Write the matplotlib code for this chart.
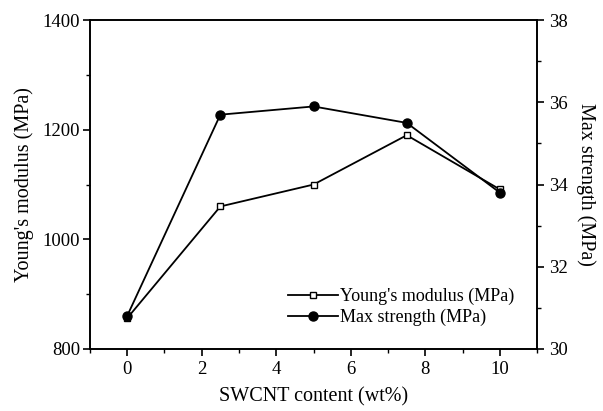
import matplotlib
matplotlib.use('Agg')
import matplotlib.pyplot as plt
import numpy as np

plt.rcParams['font.family'] = ['Liberation Serif', 'DejaVu Serif']

swcnt = [0, 2.5, 5, 7.5, 10]
youngs = [856, 1060, 1100, 1190, 1091]
strength = [30.8, 35.7, 35.9, 35.5, 33.8]

fig = plt.figure(figsize=(6.03, 4.11), dpi=100)
ax = fig.add_axes([0.149, 0.151, 0.742, 0.800])
ax2 = ax.twinx()

l1, = ax.plot(swcnt, youngs, 'k-', marker='s', markerfacecolor='white',
              markeredgecolor='k', markersize=5, linewidth=1.3,
              label="Young's modulus (MPa)")
l2, = ax2.plot(swcnt, strength, 'k-', marker='o', markersize=6.5,
               linewidth=1.3, label='Max strength (MPa)')

ax.set_xlim(-1, 11)
ax.set_ylim(800, 1400)
ax2.set_ylim(30, 38)
ax.set_xticks([0, 2, 4, 6, 8, 10])
ax.set_xticks(np.arange(-1, 12, 2), minor=True)
ax.set_yticks([800, 1000, 1200, 1400])
ax.set_yticks([900, 1100, 1300], minor=True)
ax2.set_yticks([30, 32, 34, 36, 38])
ax2.set_yticks([31, 33, 35, 37], minor=True)

for a in (ax, ax2):
    a.tick_params(which='major', direction='out', length=5, width=1.2, labelsize=13.5)
    a.tick_params(which='minor', direction='out', length=3, width=1.0)
    for s in a.spines.values():
        s.set_linewidth(1.2)
ax.tick_params(axis='y', pad=2)
ax.tick_params(axis='x', pad=4)

ax.set_xlabel('SWCNT content (wt%)', fontsize=14.5, labelpad=6)
ax.set_ylabel("Young's modulus (MPa)", fontsize=14.5, labelpad=6)
ax2.set_ylabel('Max strength (MPa)', fontsize=14.5, rotation=270, labelpad=20)

ax2.legend([l1, l2], [l1.get_label(), l2.get_label()], loc='lower right',
           bbox_to_anchor=(0.985, 0.02), frameon=False, fontsize=13,
           handlelength=2.8, handletextpad=0.1, labelspacing=0.2)

fig.savefig('out.png', dpi=100)
